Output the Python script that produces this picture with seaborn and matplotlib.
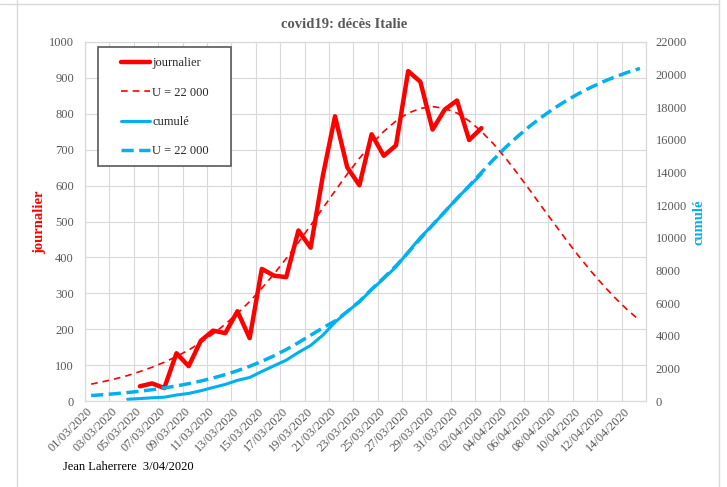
import numpy as np
import pandas as pd
import matplotlib.pyplot as plt
import seaborn as sns
from matplotlib.lines import Line2D
from matplotlib.patches import Rectangle

# axis dates (one slot per day)
dates = pd.date_range("2020-03-01", "2020-04-15", freq="D")

# observed daily deaths, from 05/03
daily_start = "2020-03-05"
daily = [41, 49, 36, 133, 97, 168, 196, 189, 250, 175, 368, 349, 345, 475, 427,
         627, 793, 651, 601, 743, 683, 712, 919, 889, 756, 812, 837, 727, 760]

# observed cumulative deaths, from 04/03
cumul_start = "2020-03-04"
cumul = [107, 148, 197, 233, 366, 463, 631, 827, 1016, 1266, 1441, 1809, 2158,
         2503, 2978, 3405, 4032, 4825, 5476, 6077, 6820, 7503, 8215, 9134,
         10023, 10779, 11591, 12428, 13155, 13915]

# model U = 22 000, 01/03 -> 15/04
model_daily = [47, 54, 62, 71, 82, 94, 108, 124, 142, 163, 187, 214, 244, 277,
               314, 354, 397, 442, 489, 537, 585, 632, 676, 716, 751, 780, 802,
               815, 820, 815, 802, 780, 751, 716, 676, 632, 586, 539, 493, 447,
               403, 361, 322, 286, 253, 224]
model_cumul = [334, 387, 448, 518, 599, 692, 799, 922, 1063, 1225, 1409, 1619,
               1857, 2126, 2430, 2772, 3153, 3577, 4030, 4480, 4900, 5480, 6100,
               6850, 7550, 8280, 9100, 9950, 10790, 11600, 12400, 13180, 14000,
               14800, 15550, 16230, 16860, 17430, 17950, 18423, 18847, 19228,
               19570, 19874, 20143, 20381]

RED = "#FF0000"
BLUE = "#00B0F0"
GRID = "#D9D9D9"
TXT = "#595959"

sns.set_style("white")
plt.rcParams["font.family"] = ["Liberation Serif", "DejaVu Serif"]

day = np.arange(len(dates))
d0 = (pd.Timestamp(daily_start) - dates[0]).days
c0 = (pd.Timestamp(cumul_start) - dates[0]).days
x_daily = day[d0:d0 + len(daily)]
x_cumul = day[c0:c0 + len(cumul)]

W, H = 727, 487
fig = plt.figure(figsize=(W / 100, H / 100), dpi=100)
ax = fig.add_axes([85 / W, 86 / H, 561 / W, 359 / H])
ax2 = ax.twinx()

# left axis: daily
sns.lineplot(x=day, y=model_daily, ax=ax, color=RED, linewidth=1.2,
             linestyle=(0, (4, 3)), legend=False)
sns.lineplot(x=x_daily, y=daily, ax=ax, color=RED, linewidth=3.2, legend=False)

# right axis: cumulative
sns.lineplot(x=day, y=model_cumul, ax=ax2, color=BLUE, linewidth=2.5,
             linestyle=(0, (3.5, 1.6)), legend=False)
sns.lineplot(x=x_cumul, y=cumul, ax=ax2, color=BLUE, linewidth=2.2, legend=False)

ax.set_xlim(-0.5, len(dates) - 0.5)
ax.set_ylim(0, 1000)
ax.set_yticks(np.arange(0, 1001, 100))
ax2.set_ylim(0, 22000)
ax2.set_yticks(np.arange(0, 22001, 2000))

ax.set_xticks(day[::2][:23])
ax.set_xticklabels([d.strftime("%d/%m/%Y") for d in dates[::2][:23]])
ax.set_xticks(np.arange(-0.5, len(dates), 2), minor=True)
plt.setp(ax.get_xticklabels(), rotation=45, ha="right", va="center",
         rotation_mode="anchor")

ax.grid(False)
ax2.grid(False)
ax.yaxis.grid(True, color=GRID, linewidth=0.8)
ax.xaxis.grid(True, which="minor", color=GRID, linewidth=0.8)

for a in (ax, ax2):
    for s in a.spines.values():
        s.set_color(GRID)
        s.set_linewidth(0.8)
    a.set_xlabel("")
    a.set_ylabel("")

ax.tick_params(axis="x", which="major", length=0, pad=6, labelsize=9, labelcolor=TXT)
ax.tick_params(axis="x", which="minor", length=3, color=GRID)
ax.tick_params(axis="y", length=0, pad=8, labelsize=9, labelcolor=TXT)
ax2.tick_params(axis="y", length=0, pad=7, labelsize=9, labelcolor=TXT)

# legend with an Excel-like box
l_md, l_d = ax.get_lines()[0], ax.get_lines()[1]
l_mc, l_c = ax2.get_lines()[0], ax2.get_lines()[1]
ax2.add_patch(Rectangle(((98 - 85) / 561, (401 - 166) / 359), (231 - 98) / 561,
                        (166 - 47) / 359, transform=ax2.transAxes,
                        facecolor="white", edgecolor="#595959", linewidth=1.2,
                        zorder=4))
ax2.legend([l_d, l_md, l_c, l_mc],
           ["journalier", "U = 22 000", "cumulé", "U = 22 000"],
           loc="upper left", bbox_to_anchor=((121 - 85) / 561, (401 - 57) / 359),
           borderaxespad=0, borderpad=0, frameon=False, handlelength=2.3,
           handletextpad=0.2, labelspacing=1.4, prop={"size": 9})

# texts
fig.text(344 / W, 1 - 25 / H, "covid19: décès Italie", ha="center", va="center",
         fontsize=10.5, fontweight="bold", color=TXT)
fig.text(40 / W, 1 - 222 / H, "journalier", rotation=90, ha="center", va="center",
         fontsize=10.5, fontweight="bold", color=RED)
fig.text(699 / W, 1 - 222 / H, "cumulé", rotation=90, ha="center", va="center",
         fontsize=10.5, fontweight="bold", color=BLUE)
fig.text(-3 / W, 1 - 227 / H, "cumulé", rotation=90, ha="center", va="center",
         fontsize=10.5, fontweight="bold", color=BLUE)
fig.text(63 / W, 1 - 467 / H, "Jean Laherrere  3/04/2020", ha="left", va="center",
         fontsize=9, color="black")

# chart area border
fig.add_artist(Line2D([17 / W, 17 / W], [0, 1], transform=fig.transFigure,
                      color=GRID, linewidth=1))
fig.add_artist(Line2D([719 / W, 719 / W], [0, 1], transform=fig.transFigure,
                      color=GRID, linewidth=1))
fig.add_artist(Line2D([0, 719 / W], [1 - 4 / H, 1 - 4 / H], transform=fig.transFigure,
                      color=GRID, linewidth=1))

fig.savefig("out.png", dpi=100)
